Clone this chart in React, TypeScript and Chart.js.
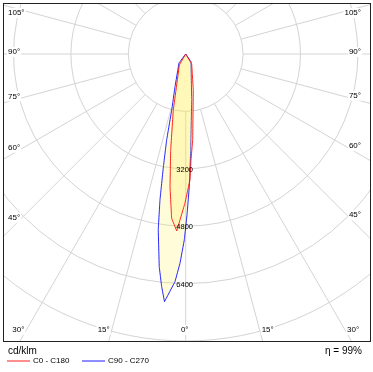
import React, { useEffect, useRef } from "react";
import { Chart, registerables } from "chart.js";

Chart.register(...registerables);

// ---- data (gamma angle in degrees, negative = left half-plane; intensity in cd/klm) ----
const c0Angles = [-90, -30, -12.5, -8.9, -6.75, -4.9, -2.9, -0.3, 1.95, 2.86, 4.65, 11.9, 31, 90];
const c0Values = [0, 354, 1599, 2708, 3723, 4596, 4940, 4161, 3514, 2958, 2405, 1026, 325, 0];

const c90Angles = [-90, -36.7, -18.1, -14, -12.5, -11.2, -10, -8.9, -7.1, -5.9, -4.9, -2.69, -1.56, -0.43, 0.54, 1.55, 2.98, 7.43, 34.5, 90];
const c90Values = [0, 313, 959, 1608, 2454, 3202, 4132, 4945, 5973, 6519, 6929, 6354, 5835, 5184, 4432, 3700, 2679, 1293, 260, 0];

const seriesNames = ["C0 - C180", "C90 - C270"];
const ringValues = [1600, 3200, 4800, 6400, 8000];
const ringLabelValues = [3200, 4800, 6400];
const degreeTicks = [0, 15, 30, 45, 60, 75, 90, 105];
const unitLabel = "cd/klm";
const efficiencyLabel = "η = 99%";

// ---- layout ----
const W = 373;
const H = 372;
const FRAME = { left: 3, top: 3, right: 370, bottom: 341 };
const CENTER = { x: 185.7, y: 54 };
const CD_PER_PX = 1600 / 57.4;
const FONT = 'Arial, "Liberation Sans", sans-serif';
const GRID = "#d4d4d4";

const toPoints = (angles: number[], values: number[]) =>
  angles.map((a, i) => {
    const t = (a * Math.PI) / 180;
    return { x: values[i] * Math.sin(t), y: -values[i] * Math.cos(t) };
  });

const gridPlugin = {
  id: "photoGrid",
  beforeDatasetsDraw(chart: any) {
    const { ctx, chartArea: a, scales } = chart;
    const xs = scales.x;
    const ys = scales.y;
    const cx = xs.getPixelForValue(0);
    const cy = ys.getPixelForValue(0);
    const rp = (v: number) => xs.getPixelForValue(v) - cx;
    ctx.save();
    ctx.fillStyle = "#fff";
    ctx.fillRect(a.left, a.top, a.right - a.left, a.bottom - a.top);
    ctx.beginPath();
    ctx.rect(a.left, a.top, a.right - a.left, a.bottom - a.top);
    ctx.clip();
    ctx.strokeStyle = GRID;
    ctx.lineWidth = 1;
    for (const v of ringValues) {
      ctx.beginPath();
      ctx.arc(cx, cy, rp(v), 0, Math.PI * 2);
      ctx.stroke();
    }
    const r0 = rp(ringValues[0]);
    const r1 = rp(20000);
    for (let d = 0; d < 360; d += 15) {
      const t = (d * Math.PI) / 180;
      ctx.beginPath();
      ctx.moveTo(cx + r0 * Math.sin(t), cy + r0 * Math.cos(t));
      ctx.lineTo(cx + r1 * Math.sin(t), cy + r1 * Math.cos(t));
      ctx.stroke();
    }

    // degree labels
    ctx.font = "8px " + FONT;
    ctx.textBaseline = "middle";
    const inL = 8;
    const inR = 361;
    const baseY = 330;
    for (const deg of degreeTicks) {
      const text = deg + "°";
      const w = ctx.measureText(text).width;
      const t = (deg * Math.PI) / 180;
      const sides = deg === 0 ? [0] : [-1, 1];
      for (const side of sides) {
        let left: number;
        let ly: number;
        if (deg === 0) {
          left = cx - 1 - w / 2;
          ly = baseY;
        } else if (deg < 45) {
          const xl = cx + side * (baseY - cy) * Math.tan(t);
          left = side < 0 ? Math.max(inL, xl - 2 - w) : Math.min(inR - w, xl + 2);
          ly = baseY;
        } else {
          left = side < 0 ? inL : inR - w;
          const xAt = side < 0 ? inL + w : inR - w;
          const yAt = cy + (Math.abs(xAt - cx) * Math.cos(t)) / Math.sin(t);
          ly = Math.max(13, yAt - 2);
        }
        ctx.fillStyle = "#fff";
        ctx.fillRect(left - 1, ly - 5, w + 2, 10);
        ctx.fillStyle = "#000";
        ctx.textAlign = "left";
        ctx.fillText(text, left, ly);
      }
    }
    ctx.restore();
  },
  afterDatasetsDraw(chart: any) {
    const { ctx, chartArea: a, scales } = chart;
    const xs = scales.x;
    const ys = scales.y;
    const cx = xs.getPixelForValue(0);
    ctx.save();
    // ring value labels along 0° axis
    ctx.font = "7.5px " + FONT;
    ctx.fillStyle = "#000";
    ctx.textAlign = "center";
    ctx.textBaseline = "middle";
    for (const v of ringLabelValues) {
      ctx.fillText(String(v), cx - 1, ys.getPixelForValue(-v) + 1);
    }
    // frame
    ctx.strokeStyle = "#222";
    ctx.lineWidth = 1;
    ctx.strokeRect(a.left + 0.5, a.top + 0.5, a.right - a.left, a.bottom - a.top);

    // footer texts
    ctx.font = "10px " + FONT;
    ctx.textAlign = "left";
    ctx.fillStyle = "#000";
    ctx.fillText(unitLabel, 8, 351);
    ctx.textAlign = "right";
    ctx.fillText(efficiencyLabel, 362, 351);

    // legend
    const legend = [
      { name: seriesNames[0], color: "rgba(255,130,130,0.9)", x: 7 },
      { name: seriesNames[1], color: "rgba(130,130,255,0.9)", x: 82 },
    ];
    ctx.font = "8px " + FONT;
    ctx.textAlign = "left";
    for (const it of legend) {
      ctx.strokeStyle = it.color;
      ctx.lineWidth = 2;
      ctx.beginPath();
      ctx.moveTo(it.x, 361);
      ctx.lineTo(it.x + 23, 361);
      ctx.stroke();
      ctx.fillStyle = "#000";
      ctx.fillText(it.name, it.x + 26, 361);
    }
    ctx.restore();
  },
};

export default function App() {
  const ref = useRef<HTMLCanvasElement | null>(null);
  useEffect(() => {
    if (!ref.current) return;
    const chart = new Chart(ref.current, {
      type: "line",
      data: {
        datasets: [
          {
            label: seriesNames[0],
            data: toPoints(c0Angles, c0Values),
            borderColor: "rgba(255,0,0,0.85)",
            backgroundColor: "rgba(255,238,70,0.22)",
            borderWidth: 1,
            pointRadius: 0,
            fill: "shape",
            tension: 0.000001,
            order: 0,
          },
          {
            label: seriesNames[1],
            data: toPoints(c90Angles, c90Values),
            borderColor: "rgba(0,0,255,0.85)",
            backgroundColor: "rgba(255,238,70,0.2)",
            borderWidth: 1,
            pointRadius: 0,
            fill: "shape",
            tension: 0.000001,
            order: 1,
          },
        ],
      },
      options: {
        responsive: false,
        animation: false,
        devicePixelRatio: 1,
        events: [],
        layout: {
          padding: { left: FRAME.left, top: FRAME.top, right: W - FRAME.right, bottom: H - FRAME.bottom },
        },
        scales: {
          x: {
            type: "linear",
            display: false,
            min: (FRAME.left - CENTER.x) * CD_PER_PX,
            max: (FRAME.right - CENTER.x) * CD_PER_PX,
          },
          y: {
            type: "linear",
            display: false,
            min: -(FRAME.bottom - CENTER.y) * CD_PER_PX,
            max: (CENTER.y - FRAME.top) * CD_PER_PX,
          },
        },
        plugins: {
          legend: { display: false },
          tooltip: { enabled: false },
        },
      },
      plugins: [gridPlugin],
    } as any);
    return () => chart.destroy();
  }, []);
  return (
    <div style={{ position: "fixed", left: 0, top: 0, width: W, height: H, background: "#fff" }}>
      <canvas ref={ref} width={W} height={H} style={{ display: "block", width: W, height: H }} />
    </div>
  );
}
